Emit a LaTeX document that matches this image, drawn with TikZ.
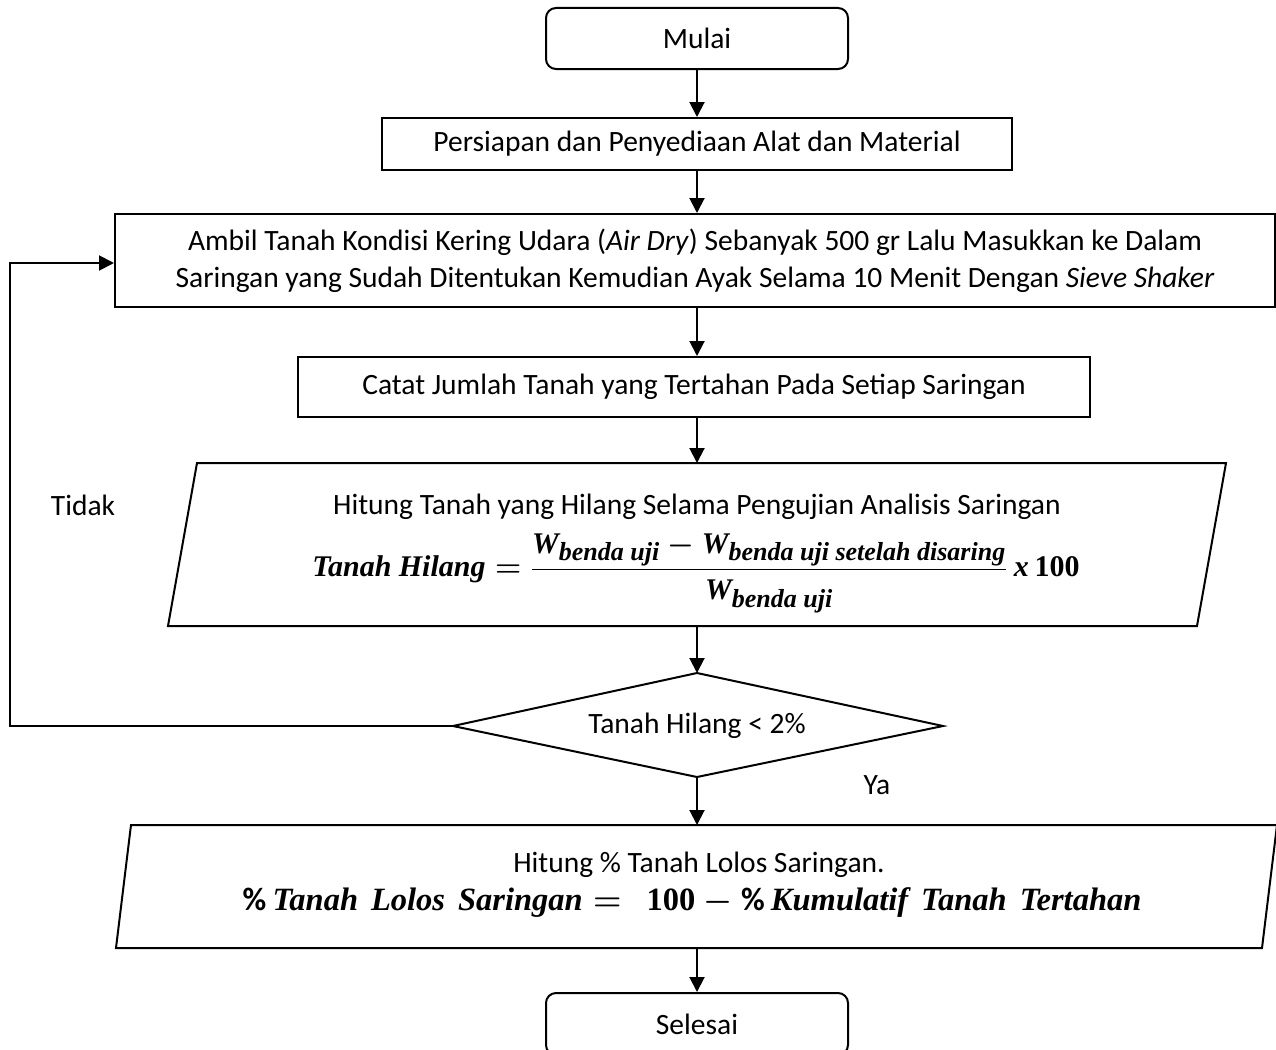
\documentclass[tikz,border=0pt]{standalone}
\usepackage{fix-cm}
\usepackage{amsmath}
\usepackage{fontspec}
\setmainfont{Carlito}
\newfontfamily\eqfont{Liberation Serif}
\usetikzlibrary{arrows.meta}
% bold italic serif letters for the formulas
\newcommand{\fv}[1]{\text{\eqfont\bfseries\itshape #1}}
\newcommand{\fn}[1]{\text{\eqfont\bfseries #1}}
\newcommand{\fsub}[1]{\text{\fontsize{26}{26}\selectfont\eqfont\bfseries\itshape #1}}
\newcommand{\lossformula}{$\displaystyle \fv{Tanah Hilang} = \frac{\fv{W}_{\fsub{benda uji}} - \fv{W}_{\fsub{benda uji setelah disaring}}}{\fv{W}_{\fsub{benda uji}}}\ \fv{x}\,\fn{100}$}
\newcommand{\passformula}{$\%\,\fv{Tanah\hspace{0.4em}Lolos\hspace{0.4em}Saringan} =\ \ \fn{100} - \%\,\fv{Kumulatif\hspace{0.4em}Tanah\hspace{0.4em}Tertahan}$}
\begin{document}
\begin{tikzpicture}[x=1pt,y=-1pt,
  every node/.style={font=\fontsize{29.5}{37}\selectfont},
  box/.style={draw,line width=2pt,inner sep=0pt,align=center},
  term/.style={box,rounded corners=10pt,minimum width=302pt,minimum height=61pt},
  outline/.style={draw,line width=2pt,line join=miter},
  arr/.style={line width=2pt,-{Triangle[length=15pt,width=15pt]}},
  formula/.style={inner sep=0pt,font=\fontsize{30}{34}\selectfont\boldmath},
  lbl/.style={inner sep=0pt}]
\useasboundingbox (0,0) rectangle (1276,1049);
\clip (0,0) rectangle (1276,1049);

% process steps
\node[term] (start) at (697,38.5) {Mulai};
\node[box,minimum width=630pt,minimum height=52pt] (prep) at (697,144) {Persiapan dan Penyediaan Alat dan Material};
\node[box,minimum width=1160pt,minimum height=93pt] (take) at (695,260.5)
  {Ambil Tanah Kondisi Kering Udara (\textit{Air Dry}) Sebanyak 500 gr Lalu Masukkan ke Dalam\\
   Saringan yang Sudah Ditentukan Kemudian Ayak Selama 10 Menit Dengan \textit{Sieve Shaker}};
\node[box,minimum width=792pt,minimum height=60pt] (rec) at (694,387) {Catat Jumlah Tanah yang Tertahan Pada Setiap Saringan};

% soil loss computation (parallelogram)
\coordinate (p1t) at (697,463);
\coordinate (p1b) at (697,626);
\draw[outline] (197,463) -- (1226,463) -- (1197,626) -- (168,626) -- cycle;
\node[lbl] (p1text) at (697,507) {Hitung Tanah yang Hilang Selama Pengujian Analisis Saringan};
\node[formula] (p1eq) at (696,573) {\lossformula};

% decision
\coordinate (dT) at (697,673);
\coordinate (dR) at (943,726);
\coordinate (dB) at (697,777);
\coordinate (dL) at (453,726);
\draw[outline] (dT) -- (dR) -- (dB) -- (dL) -- cycle;
\node[lbl] (dtext) at (697,726) {Tanah Hilang < 2\%};

% passing percentage (parallelogram)
\coordinate (p2t) at (697,825);
\coordinate (p2b) at (697,948);
\draw[outline] (131,825) -- (1277,825) -- (1262,948) -- (116,948) -- cycle;
\node[lbl] (p2text) at (699,865) {Hitung \% Tanah Lolos Saringan.};
\node[formula,font=\fontsize{32.5}{34}\selectfont\boldmath] (p2eq) at (692,903) {\passformula};

\node[term,minimum height=62pt] (end) at (697,1024) {Selesai};

% connectors
\draw[arr] (start.south) -- (prep.north -| start.south);
\draw[arr] (prep.south) -- (take.north -| prep.south);
\draw[arr] (take.south -| start.south) -- (rec.north -| start.south);
\draw[arr] (rec.south -| start.south) -- (p1t);
\draw[arr] (p1b) -- (dT);
\draw[arr] (dB) -- (p2t);
\draw[arr] (p2b) -- (end.north -| p2b);

% loop back when the loss is too large
\coordinate (loopb) at (10,726);
\coordinate (loopt) at (10,263);
\draw[arr,line join=miter] (dL) -- (loopb) -- (loopt) -- (loopt -| take.west);

\node[lbl] (no) at (83,505) {Tidak};
\node[lbl] (yes) at (877,785) {Ya};
\end{tikzpicture}
\end{document}
